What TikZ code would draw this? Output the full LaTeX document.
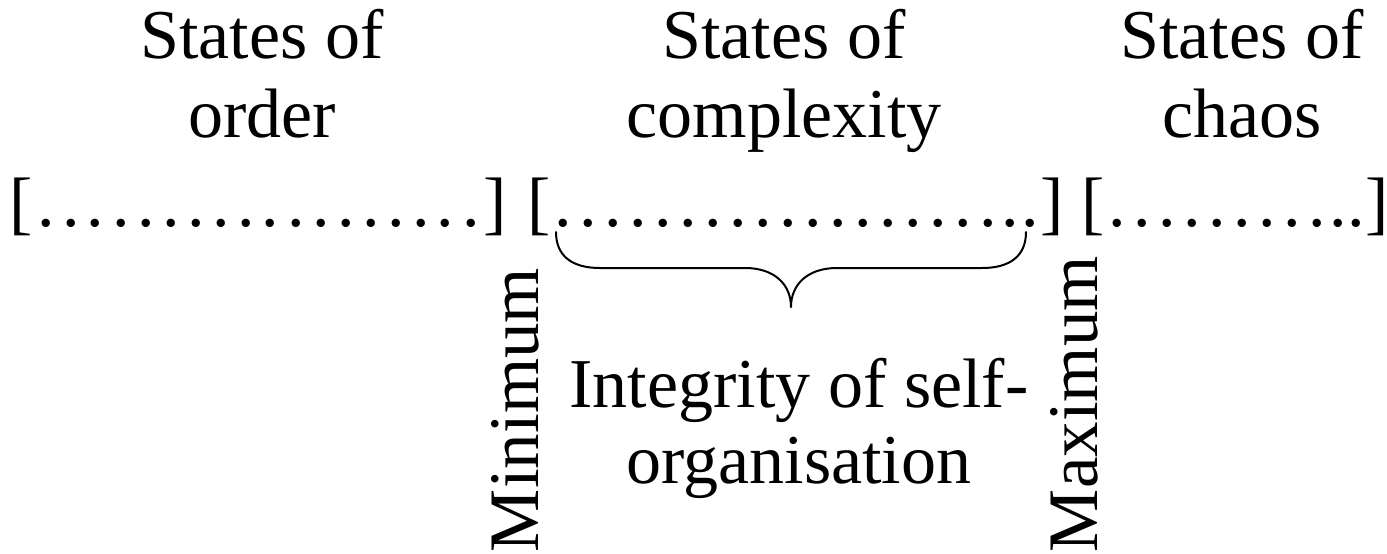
\documentclass[tikz,border=0pt]{standalone}
\usepackage{fontspec}
\setmainfont{Liberation Serif}
\newcount\mydotcnt
\newcommand\mydotrun[2]{\mydotcnt=#1\relax\loop\makebox[#2]{.}\advance\mydotcnt by -1\relax\ifnum\mydotcnt>0 \repeat}
\newcommand\mytwoline[3][0pt]{\begin{tabular}[t]{@{}c@{}}#2\\[#1]#3\end{tabular}}
\tikzset{
  lbl/.style={inner sep=0pt, outer sep=0pt, anchor=base, font=\fontsize{35pt}{39.5pt}\selectfont},
  grp/.style={inner sep=0pt, outer sep=0pt, anchor=base west, font=\fontsize{35pt}{39.5pt}\selectfont},
  vlab/.style={inner sep=0pt, outer sep=0pt, rotate=90, anchor=base west, font=\fontsize{35.5pt}{39.5pt}\selectfont},
  bracestroke/.style={line width=1pt, line cap=round, line join=round}
}
\begin{document}
\begin{tikzpicture}[x=0.5pt, y=-0.5pt]
\useasboundingbox (0,0) rectangle (1387,553);
% column headings
\node[lbl] (order) at (262,58) {\mytwoline{States of}{order}};
\node[lbl] (complexity) at (784,58) {\mytwoline{States of}{complexity}};
\node[lbl] (chaos) at (1242,58) {\mytwoline{States of}{chaos}};
% dotted ranges
\node[grp] (g1) at (10,226) {[\mydotrun{18}{12.5pt}]};
\node[grp] (g2) at (527,226) {[\mydotrun{18}{12.5pt}\mydotrun{2}{10pt}]};
\node[grp] (g3) at (1081,226) {[\mydotrun{9}{12.5pt}\mydotrun{2}{9pt}]};
% brace under the complexity range
\coordinate (bl) at (556,232);
\coordinate (br) at (1026,232);
\coordinate (tip) at (791,307);
\draw[bracestroke] (bl) .. controls (556,256) and (572,268) .. (600,268) -- (745,268)
  .. controls (775,268) and (791,285) .. (tip)
  .. controls (791,285) and (807,268) .. (837,268) -- (982,268)
  .. controls (1010,268) and (1026,256) .. (br);
% labels
\node[lbl] (integrity) at (799,407) {\mytwoline[-1.5pt]{Integrity of self-}{organisation}};
\node[vlab] (minimum) at (538,552) {Minimum};
\node[vlab] (maximum) at (1097,552) {Maximum};
\end{tikzpicture}
\end{document}
